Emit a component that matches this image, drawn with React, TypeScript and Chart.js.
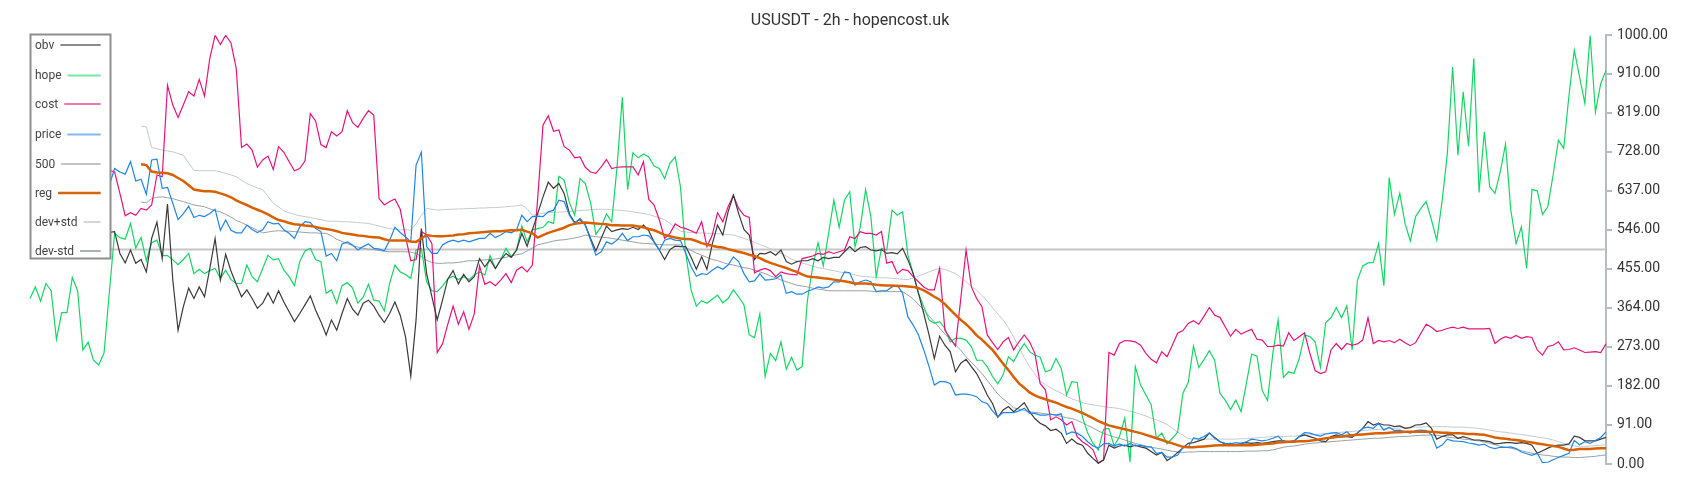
import React, { useEffect, useRef } from "react";
import { Chart, registerables } from "chart.js";

Chart.register(...registerables);

const TITLE = "USUSDT - 2h - hopencost.uk";

const OBV = [
  540, 560, 530, 550, 520, 545, 560, 535, 550, 525,
  540, 555, 530, 545, 535, 540, 542, 491, 469, 499,
  468, 477, 448, 526, 564, 479, 606, 429, 312, 367,
  410, 386, 413, 390, 456, 526, 429, 489, 450, 419,
  390, 406, 386, 363, 375, 399, 375, 404, 378, 355,
  332, 351, 371, 392, 359, 332, 301, 336, 312, 351,
  386, 361, 347, 375, 382, 368, 347, 330, 351, 378,
  347, 297, 205, 336, 549, 444, 390, 336, 382, 431,
  451, 420, 442, 425, 437, 479, 460, 476, 456, 476,
  491, 482, 499, 538, 508, 546, 584, 623, 657, 643,
  654, 631, 583, 563, 570, 557, 526, 497, 526, 555,
  542, 546, 549, 547, 552, 547, 557, 544, 518, 499,
  477, 500, 508, 507, 507, 482, 454, 483, 454, 513,
  557, 534, 588, 627, 584, 547, 534, 477, 491, 490,
  495, 487, 499, 472, 466, 472, 474, 474, 479, 474,
  482, 479, 482, 482, 495, 507, 495, 505, 507,
  499, 497, 500, 491, 493, 490, 503, 476, 444, 398,
  351, 301, 246, 298, 277, 262, 215, 235, 244, 227,
  211, 187, 161, 141, 109, 126, 134, 122, 132, 143,
  122, 106, 95, 89, 78, 81, 72, 48, 58, 48,
  44, 25, 13, 2, 9, 44, 37, 42, 44, 40,
  44, 40, 37, 29, 21, 27, 8, 16, 27, 37,
  48, 50, 54, 58, 72, 62, 52, 47, 48, 44,
  48, 50, 48, 50, 48, 50, 52, 54, 54, 52,
  54, 64, 68, 64, 60, 54, 52, 64, 68, 64,
  64, 62, 72, 83, 99, 91, 95, 91, 91, 87,
  89, 83, 85, 91, 92, 96, 83, 58, 64, 68,
  68, 60, 64, 60, 56, 56, 54, 52, 47, 48,
  50, 50, 48, 50, 48, 44, 25, 31, 37, 42,
  44, 44, 47, 65, 62, 54, 54, 54, 58, 62,
];

const HOPE = [
  386, 413, 380, 421, 404, 291, 353, 353, 435, 404,
  266, 284, 242, 231, 259, 400, 538, 528, 524, 561,
  504, 528, 474, 516, 522, 486, 486, 476, 465, 477,
  491, 444, 454, 444, 451, 456, 433, 452, 430, 421,
  421, 464, 437, 425, 456, 487, 476, 479, 452, 437,
  416, 472, 497, 503, 477, 472, 398, 406, 375, 416,
  423, 410, 375, 389, 419, 382, 380, 357, 421, 464,
  448, 442, 433, 499, 503, 425, 404, 402, 415, 432,
  438, 430, 437, 430, 441, 448, 441, 486, 456, 477,
  503, 483, 499, 555, 518, 546, 549, 552, 565, 561,
  671, 662, 609, 580, 666, 654, 609, 536, 553, 583,
  565, 693, 855, 640, 726, 714, 723, 716, 695, 689,
  666, 701, 716, 646, 491, 406, 368, 381, 375, 384,
  394, 376, 386, 406, 390, 371, 301, 295, 350, 204,
  258, 241, 285, 221, 249, 219, 227, 382, 460, 516,
  462, 538, 615, 552, 615, 635, 507, 553, 640,
  577, 437, 503, 499, 592, 580, 588, 487, 444, 398,
  367, 336, 328, 332, 316, 285, 293, 293, 289, 274,
  242, 242, 227, 204, 187, 208, 250, 239, 262, 281,
  262, 254, 249, 215, 219, 246, 223, 161, 192, 190,
  110, 72, 48, 33, 81, 83, 42, 64, 107, 5,
  227, 184, 161, 138, 60, 72, 47, 60, 74, 165,
  190, 275, 225, 244, 264, 242, 165, 149, 127, 149,
  122, 188, 256, 252, 171, 148, 258, 336, 202, 215,
  211, 246, 301, 297, 285, 225, 330, 341, 365, 341,
  369, 266, 429, 462, 469, 470, 514, 416, 668, 582,
  631, 561, 520, 577, 596, 612, 569, 522, 612, 724,
  926, 720, 868, 741, 946, 633, 775, 647, 631, 681,
  746, 592, 514, 553, 456, 640, 637, 582, 600, 674,
  755, 736, 860, 965, 903, 841, 1000, 821, 887, 918,
];

const COST = [
  690, 700, 680, 695, 670, 700, 710, 690, 680, 700,
  690, 680, 670, 690, 685, 685, 681, 631, 579, 586,
  580, 596, 592, 604, 674, 670, 883, 837, 808, 838,
  868, 858, 897, 858, 946, 1000, 978, 1000, 982, 922,
  738, 746, 732, 692, 709, 718, 687, 740, 727, 705,
  684, 689, 707, 817, 800, 745, 738, 775, 765, 775,
  824, 796, 785, 806, 824, 814, 619, 604, 612, 618,
  594, 530, 474, 477, 542, 534, 514, 260, 280, 326,
  368, 326, 355, 314, 350, 462, 419, 425, 416, 429,
  444, 423, 452, 460, 448, 464, 620, 790, 812, 776,
  779, 740, 732, 714, 716, 692, 681, 678, 693, 710,
  689, 692, 693, 693, 693, 674, 705, 617, 604, 569,
  526, 538, 560, 552, 549, 544, 538, 565, 507, 534,
  586, 565, 600, 626, 596, 580, 575, 446, 452, 456,
  451, 437, 448, 444, 442, 441, 479, 482, 485, 491,
  489, 495, 491, 495, 499, 530, 526, 542, 538,
  538, 534, 542, 468, 472, 444, 454, 451, 437, 425,
  413, 406, 406, 456, 312, 293, 275, 386, 499, 413,
  386, 367, 301, 283, 267, 285, 295, 266, 285, 301,
  285, 258, 188, 173, 103, 110, 103, 91, 99, 64,
  52, 44, 33, 2, 10, 260, 254, 281, 288, 287,
  285, 277, 258, 244, 236, 262, 250, 277, 305, 311,
  328, 334, 326, 345, 365, 347, 342, 320, 298, 314,
  303, 309, 314, 291, 289, 274, 274, 277, 275, 306,
  288, 297, 306, 258, 218, 211, 215, 266, 281, 267,
  281, 277, 280, 289, 341, 281, 288, 285, 288, 283,
  291, 283, 276, 283, 305, 326, 319, 309, 312, 316,
  319, 316, 319, 315, 315, 315, 315, 316, 281, 291,
  297, 293, 300, 293, 297, 295, 266, 254, 274, 277,
  285, 266, 267, 271, 266, 260, 261, 262, 260, 280,
];

const PRICE = [
  700, 690, 705, 680, 695, 710, 690, 700, 685, 695,
  705, 690, 700, 680, 690, 650, 689, 681, 676, 705,
  660, 664, 629, 709, 711, 643, 645, 608, 570, 584,
  601, 575, 580, 577, 584, 594, 545, 569, 545, 539,
  539, 557, 547, 540, 546, 565, 560, 561, 546, 538,
  526, 553, 565, 563, 549, 542, 485, 491, 474, 513,
  518, 511, 499, 507, 513, 503, 501, 497, 522, 552,
  540, 530, 518, 697, 727, 507, 491, 491, 511, 518,
  522, 518, 522, 518, 522, 526, 526, 538, 528, 534,
  542, 539, 546, 580, 565, 577, 578, 577, 588, 592,
  615, 612, 580, 561, 573, 557, 522, 487, 495, 518,
  513, 522, 538, 521, 530, 530, 534, 532, 518, 499,
  522, 526, 522, 521, 491, 460, 438, 444, 442, 452,
  460, 454, 464, 483, 472, 444, 425, 427, 444, 429,
  430, 432, 441, 398, 402, 396, 396, 403, 407, 413,
  410, 413, 425, 424, 448, 446, 417, 425, 429,
  425, 402, 404, 404, 413, 417, 398, 343, 324, 301,
  266, 227, 184, 192, 192, 188, 161, 163, 163, 161,
  157, 145, 141, 124, 110, 120, 120, 120, 124, 130,
  118, 118, 114, 114, 116, 114, 117, 69, 75, 72,
  64, 52, 42, 37, 47, 48, 42, 47, 42, 48,
  42, 44, 40, 40, 25, 27, 16, 16, 21, 38,
  39, 61, 58, 64, 72, 60, 52, 48, 47, 50,
  48, 52, 58, 56, 54, 56, 60, 65, 52, 52,
  52, 64, 73, 72, 68, 65, 70, 72, 73, 68,
  75, 64, 73, 83, 86, 83, 95, 79, 86, 78,
  79, 75, 72, 78, 79, 78, 68, 37, 44, 58,
  54, 53, 52, 49, 47, 44, 46, 39, 36, 39,
  39, 40, 36, 28, 24, 20, 25, 3, 4, 10,
  15, 20, 25, 55, 45, 52, 48, 55, 62, 75,
];

const LEVEL_500 = 500;

// reg and the two bands begin at point 21
const BAND_START = 21;

const REG = [
  699, 697, 682, 680, 679, 678, 674, 667, 660,
  650, 640, 638, 636, 636, 635, 631, 627, 622, 615,
  609, 604, 598, 593, 588, 582, 575, 569, 566, 562,
  559, 558, 556, 555, 553, 550, 548, 546, 543, 539,
  537, 535, 533, 532, 530, 529, 528, 524, 521, 521,
  521, 521, 519, 518, 526, 534, 532, 531, 531, 532,
  533, 535, 536, 538, 539, 540, 541, 542, 543, 543,
  544, 545, 545, 546, 542, 538, 528, 534, 539, 543,
  547, 551, 557, 560, 562, 563, 562, 561, 560, 559,
  557, 557, 556, 556, 556, 554, 552, 548, 545, 540,
  534, 531, 528, 526, 525, 524, 520, 515, 512, 509,
  506, 505, 501, 498, 495, 492, 488, 485, 480, 474,
  469, 465, 461, 457, 452, 448, 442, 437, 436, 435,
  433, 432, 430, 428, 426, 424, 421, 421, 421, 420,
  418, 417, 416, 416, 415, 415, 414, 413, 410, 405,
  398, 390, 383, 373, 360, 348, 336, 326, 314, 300,
  290, 278, 266, 250, 234, 219, 203, 188, 178, 167,
  160, 155, 151, 147, 143, 138, 133, 129, 124, 119,
  113, 107, 100, 95, 90, 87, 84, 81, 78, 75,
  72, 68, 64, 60, 56, 52, 48, 44, 40, 39,
  39, 40, 41, 42, 43, 44, 44, 44, 44, 44,
  44, 44, 45, 46, 47, 48, 50, 51, 52, 52,
  53, 53, 54, 56, 58, 60, 61, 63, 64, 66,
  67, 68, 69, 70, 71, 72, 72, 73, 74, 74,
  75, 75, 75, 75, 75, 75, 74, 73, 73, 72,
  72, 71, 70, 70, 69, 68, 65, 62, 60, 59,
  57, 56, 54, 52, 50, 48, 46, 44, 42, 40,
  36, 32, 33, 35, 35, 35, 36, 37, 37,
];

const DEV_PLUS = [
  788, 786, 738, 735, 732, 730, 728, 724, 720,
  702, 685, 684, 684, 684, 684, 681, 678, 674, 670,
  662, 654, 649, 644, 640, 624, 608, 600, 590, 586,
  582, 579, 577, 575, 572, 570, 567, 566, 566, 565,
  565, 564, 563, 562, 561, 558, 555, 552, 549, 547,
  546, 546, 546, 560, 580, 596, 594, 592, 593, 594,
  594, 595, 595, 596, 596, 597, 597, 598, 598, 599,
  600, 601, 602, 604, 595, 580, 582, 585, 586, 587,
  587, 588, 589, 590, 591, 592, 593, 594, 594, 594,
  593, 592, 591, 590, 588, 586, 584, 582, 578, 574,
  570, 561, 551, 543, 541, 540, 539, 539, 538, 538,
  537, 536, 535, 534, 530, 526, 522, 517, 512, 507,
  502, 496, 491, 485, 478, 473, 469, 465, 461, 458,
  456, 453, 451, 448, 446, 444, 441, 438, 437, 436,
  435, 434, 434, 433, 432, 431, 430, 434, 438, 443,
  448, 453, 456, 454, 449, 444, 435, 425, 415, 405,
  393, 380, 365, 350, 336, 318, 296, 273, 248, 227,
  210, 193, 185, 178, 171, 165, 158, 152, 148, 143,
  140, 138, 136, 134, 132, 131, 129, 126, 123, 120,
  116, 112, 107, 103, 98, 92, 83, 74, 67, 59,
  58, 58, 58, 58, 58, 58, 58, 58, 58, 59,
  59, 60, 61, 62, 63, 64, 64, 64, 65, 65,
  66, 67, 68, 69, 70, 71, 72, 73, 74, 75,
  76, 77, 78, 79, 80, 81, 82, 83, 83, 84,
  85, 86, 86, 86, 87, 87, 87, 87, 87, 86,
  86, 86, 85, 84, 83, 81, 79, 77, 75, 74,
  72, 70, 69, 67, 65, 63, 61, 59, 56, 52,
  48, 45, 42, 40, 41, 42, 43, 44, 45,
];

const DEV_MINUS = [
  611, 609, 619, 622, 623, 621, 619, 615, 612,
  608, 604, 602, 600, 595, 591, 588, 582, 576, 568,
  563, 557, 551, 545, 539, 541, 543, 544, 543, 543,
  542, 541, 540, 539, 539, 538, 538, 532, 524, 519,
  514, 509, 506, 503, 501, 500, 498, 496, 495, 495,
  495, 495, 494, 491, 484, 475, 470, 468, 468, 469,
  469, 470, 472, 474, 474, 475, 476, 477, 478, 480,
  482, 485, 488, 490, 497, 504, 511, 514, 517, 520,
  522, 523, 525, 527, 530, 534, 532, 530, 529, 528,
  526, 524, 522, 520, 518, 516, 514, 514, 513, 512,
  511, 511, 511, 511, 505, 498, 492, 487, 482, 477,
  474, 470, 466, 464, 461, 458, 456, 452, 448, 444,
  439, 434, 429, 425, 421, 417, 415, 413, 410, 408,
  406, 404, 404, 404, 404, 404, 404, 404, 404, 403,
  402, 402, 402, 402, 402, 402, 394, 385, 372, 359,
  345, 331, 317, 303, 290, 278, 265, 250, 237, 224,
  211, 195, 179, 163, 152, 142, 131, 128, 125, 122,
  120, 119, 117, 116, 114, 111, 108, 106, 102, 96,
  90, 84, 77, 72, 67, 63, 60, 56, 52, 48,
  45, 42, 39, 37, 35, 32, 30, 28, 27, 28,
  28, 29, 29, 29, 29, 29, 29, 29, 29, 29,
  30, 30, 30, 31, 31, 33, 36, 39, 41, 42,
  44, 46, 48, 49, 50, 51, 52, 53, 54, 55,
  56, 57, 58, 59, 60, 60, 61, 62, 63, 64,
  64, 65, 66, 67, 67, 68, 67, 65, 63, 61,
  60, 58, 57, 55, 54, 51, 48, 45, 41, 39,
  37, 34, 31, 28, 25, 23, 21, 20, 18, 17,
  16, 16, 15, 15, 16, 17, 18, 20, 21,
];

const Y_TICKS = [0, 91, 182, 273, 364, 455, 546, 637, 728, 819, 910, 1000];

const LABELS = HOPE.map((_, i) => String(i));

const LEGEND_ITEMS = [
  { label: "obv", color: "#8c8c8c", width: 2, y: 45 },
  { label: "hope", color: "#7de6a6", width: 2, y: 75.5 },
  { label: "cost", color: "#ef78b3", width: 2, y: 104 },
  { label: "price", color: "#82b9ee", width: 2, y: 134.5 },
  { label: "500", color: "#c4c4c4", width: 2, y: 164 },
  { label: "reg", color: "#d4660a", width: 2.5, y: 193 },
  { label: "dev+std", color: "#d2d6da", width: 2, y: 222 },
  { label: "dev-std", color: "#a9b0b6", width: 2, y: 251 },
];

const legendBoxPlugin = {
  id: "legendBox",
  afterDraw(chart: any) {
    const ctx = chart.ctx;
    ctx.save();
    ctx.fillStyle = "#ffffff";
    ctx.fillRect(30.5, 34.5, 80, 224);
    ctx.strokeStyle = "#8e8e8e";
    ctx.lineWidth = 2;
    ctx.strokeRect(30.5, 34.5, 80, 224);
    ctx.font = "12px Roboto";
    ctx.textBaseline = "middle";
    ctx.textAlign = "left";
    for (const it of LEGEND_ITEMS) {
      ctx.fillStyle = "#444444";
      ctx.fillText(it.label, 35, it.y + 0.5);
      const w = ctx.measureText(it.label).width;
      ctx.strokeStyle = it.color;
      ctx.lineWidth = it.width;
      ctx.beginPath();
      ctx.moveTo(35 + w + 6, it.y);
      ctx.lineTo(100.7, it.y);
      ctx.stroke();
    }
    ctx.restore();
  },
};

export default function App() {
  const ref = useRef<HTMLCanvasElement>(null);

  useEffect(() => {
    document.body.style.margin = "0";
    Chart.defaults.font.family = "Roboto";
    const pad = (arr: number[]) => [...Array(BAND_START).fill(null), ...arr];
    const line = (label: string, data: any[], color: string, width: number, order: number) => ({
      label,
      data,
      borderColor: color,
      backgroundColor: color,
      borderWidth: width,
      pointRadius: 0,
      pointHoverRadius: 0,
      tension: 0,
      fill: false,
      order,
    });
    const chart = new Chart(ref.current as HTMLCanvasElement, {
      type: "line",
      data: {
        labels: LABELS,
        datasets: [
          line("obv", OBV, "#3a3a3a", 1.2, 2),
          line("hope", HOPE, "#14d665", 1.2, 4),
          line("cost", COST, "#e8127c", 1.2, 3),
          line("price", PRICE, "#1f86e8", 1.2, 1),
          line("500", LABELS.map(() => LEVEL_500), "#c6c6c6", 2, 7),
          line("reg", pad(REG), "#d86000", 2.5, 0),
          line("dev+std", pad(DEV_PLUS), "#c5cacf", 1, 5),
          line("dev-std", pad(DEV_MINUS), "#98a1a8", 1, 6),
        ] as any,
      },
      options: {
        responsive: false,
        devicePixelRatio: 1,
        animation: false,
        layout: { padding: { left: 30, right: 30, top: 0, bottom: 36 } },
        plugins: {
          legend: { display: false },
          tooltip: { enabled: false },
          title: {
            display: true,
            text: TITLE,
            color: "#333333",
            font: { family: "Roboto", size: 16, weight: "normal" as any },
            padding: { top: 11, bottom: 5 },
          },
        },
        scales: {
          x: {
            type: "category",
            display: false,
            offset: false,
            grid: { display: false },
          },
          y: {
            position: "right",
            min: 0,
            max: 1000,
            afterBuildTicks: (scale: any) => {
              scale.ticks = Y_TICKS.map((v) => ({ value: v }));
            },
            afterFit: (scale: any) => {
              scale.width = 64;
            },
            ticks: {
              autoSkip: false,
              padding: 5,
              color: "#333333",
              font: { family: "Roboto", size: 14 },
              callback: (v: any) => Number(v).toFixed(2),
            },
            grid: {
              drawOnChartArea: false,
              drawTicks: true,
              tickLength: 6,
              color: "#b4bcc4",
              lineWidth: 2,
            },
            border: { display: true, color: "#b4bcc4", width: 2 },
          },
        },
      } as any,
      plugins: [legendBoxPlugin],
    });
    return () => chart.destroy();
  }, []);

  return (
    <div style={{ width: 1700, height: 500 }}>
      <canvas ref={ref} width={1700} height={500} style={{ display: "block" }} />
    </div>
  );
}
